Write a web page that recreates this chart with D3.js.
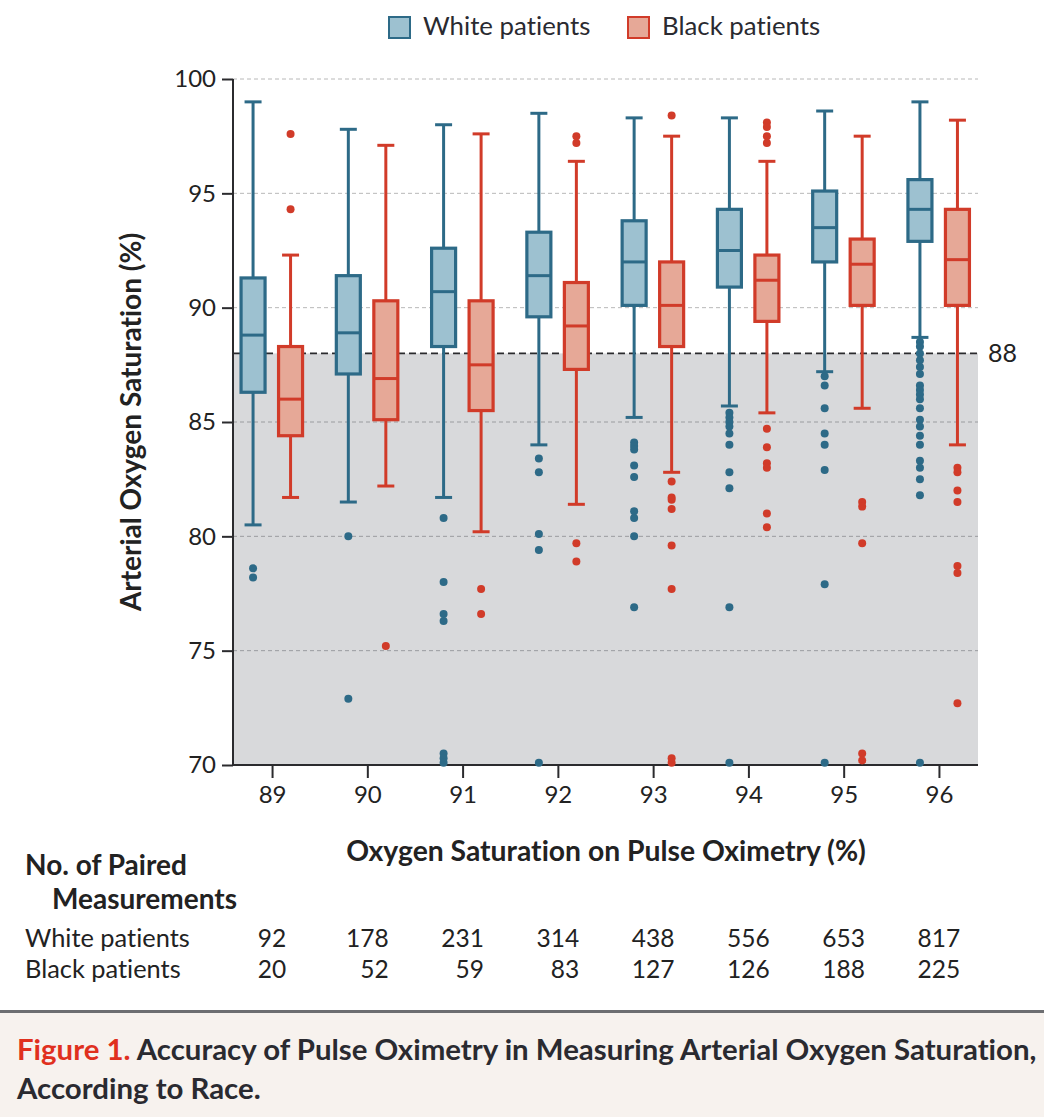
<!DOCTYPE html>
<html>
<head>
<meta charset="utf-8">
<script src="https://cdn.jsdelivr.net/npm/d3@7"></script>
<style>
  body { margin: 0; background: #fff; }
  svg { display: block; font-family: Lato, "Open Sans", sans-serif; }
  svg text { font-variant-ligatures: none; font-feature-settings: "liga" 0, "dlig" 0; }
</style>
</head>
<body>
<svg id="chart" width="1044" height="1117"></svg>
<script>
// pulse oximetry categories (x axis)
const categories = [89, 90, 91, 92, 93, 94, 95, 96];

// [lower whisker, q1, median, q3, upper whisker]
const whiteStats = [
  [80.5, 86.3, 88.8, 91.3, 99.0],
  [81.5, 87.1, 88.9, 91.4, 97.8],
  [81.7, 88.3, 90.7, 92.6, 98.0],
  [84.0, 89.6, 91.4, 93.3, 98.5],
  [85.2, 90.1, 92.0, 93.8, 98.3],
  [85.7, 90.9, 92.5, 94.3, 98.3],
  [87.2, 92.0, 93.5, 95.1, 98.6],
  [88.7, 92.9, 94.3, 95.6, 99.0]
];
const blackStats = [
  [81.7, 84.4, 86.0, 88.3, 92.3],
  [82.2, 85.1, 86.9, 90.3, 97.1],
  [80.2, 85.5, 87.5, 90.3, 97.6],
  [81.4, 87.3, 89.2, 91.1, 96.4],
  [82.8, 88.3, 90.1, 92.0, 97.5],
  [85.4, 89.4, 91.2, 92.3, 96.4],
  [85.6, 90.1, 91.9, 93.0, 97.5],
  [84.0, 90.1, 92.1, 94.3, 98.2]
];

const whiteOutliers = [
  [78.6, 78.2],
  [80.0, 72.9],
  [80.8, 78.0, 76.6, 76.3, 70.5, 70.3, 70.1],
  [83.4, 82.8, 80.1, 79.4, 70.1],
  [84.1, 83.95, 83.8, 83.1, 82.6, 81.1, 80.8, 80.0, 76.9],
  [85.4, 85.2, 85.0, 84.8, 84.5, 84.0, 82.8, 82.1, 76.9, 70.1],
  [87.0, 86.6, 85.6, 84.5, 84.0, 82.9, 77.9, 70.1],
  [88.5, 88.3, 88.0, 87.7, 87.4, 87.1, 86.6, 86.4, 86.2, 86.0, 85.6, 85.1,
   84.8, 84.4, 84.0, 83.3, 83.0, 82.5, 81.8, 70.1]
];
const blackOutliers = [
  [97.6, 94.3],
  [75.2],
  [77.7, 76.6],
  [97.5, 97.2, 79.7, 78.9],
  [98.4, 82.4, 81.7, 81.6, 81.2, 79.6, 77.7, 70.3, 70.1],
  [98.1, 97.9, 97.5, 97.2, 84.7, 83.9, 83.2, 83.0, 81.0, 80.4],
  [81.5, 81.3, 79.7, 70.5, 70.2],
  [83.0, 82.8, 82.0, 81.5, 78.7, 78.4, 72.7]
];

const whiteCounts = [92, 178, 231, 314, 438, 556, 653, 817];
const blackCounts = [20, 52, 59, 83, 127, 126, 188, 225];

const yTicks = [70, 75, 80, 85, 90, 95, 100];
const threshold = 88;

const groups = [
  { name: 'White patients', stats: whiteStats, outliers: whiteOutliers, counts: whiteCounts,
    stroke: '#2d6a87', fill: '#9dc1d0', offset: -19 },
  { name: 'Black patients', stats: blackStats, outliers: blackOutliers, counts: blackCounts,
    stroke: '#d13b29', fill: '#e6a897', offset: 18.5 }
];

const svg = d3.select('#chart');

const plotLeft = 233, plotRight = 978, plotTop = 79, plotBottom = 765;

const x = d3.scalePoint()
  .domain(categories)
  .range([plotLeft, plotRight])
  .padding(0.41);

const y = d3.scaleLinear()
  .domain([70, 100])
  .range([plotBottom, plotTop]);

// shaded area below the 88 threshold
svg.append('rect')
  .attr('x', plotLeft)
  .attr('y', y(threshold))
  .attr('width', plotRight - plotLeft)
  .attr('height', y(70) - y(threshold))
  .attr('fill', '#d8d9db');

// gridlines
svg.append('g')
  .selectAll('line')
  .data(yTicks.filter(d => d > 70))
  .join('line')
  .attr('x1', plotLeft)
  .attr('x2', plotRight)
  .attr('y1', d => y(d))
  .attr('y2', d => y(d))
  .attr('stroke', d => d < threshold ? '#9a9c9f' : '#b8b8b8')
  .attr('stroke-width', 1)
  .attr('stroke-dasharray', '4,3');

// threshold line
svg.append('line')
  .attr('x1', plotLeft)
  .attr('x2', plotRight)
  .attr('y1', y(threshold))
  .attr('y2', y(threshold))
  .attr('stroke', '#2b2b2e')
  .attr('stroke-width', 1.6)
  .attr('stroke-dasharray', '7,4');

svg.append('text')
  .attr('x', 988)
  .attr('y', y(threshold) + 9)
  .attr('font-size', 25)
  .attr('fill', '#222')
  .text(threshold);

// axes
const yAxis = svg.append('g')
  .attr('transform', `translate(${plotLeft},0)`)
  .call(d3.axisLeft(y).tickValues(yTicks).tickSize(11).tickPadding(6));
const xAxis = svg.append('g')
  .attr('transform', `translate(0,${plotBottom})`)
  .call(d3.axisBottom(x).tickSize(13).tickPadding(8));

[yAxis, xAxis].forEach(ax => {
  ax.select('.domain').attr('stroke', '#2b2b2e').attr('stroke-width', 2);
  ax.selectAll('.tick line').attr('stroke', '#2b2b2e').attr('stroke-width', 2);
  ax.selectAll('.tick text')
    .attr('font-size', 24)
    .attr('fill', '#222')
    .attr('font-family', 'Lato, sans-serif');
});
yAxis.select('.domain').attr('d', `M0,${plotBottom}V${plotTop}`);
xAxis.select('.domain').attr('d', `M${plotLeft},0H${plotRight}`);

// boxes
const boxW = 24, capW = 17;
groups.forEach(g => {
  const layer = svg.append('g');
  categories.forEach((c, i) => {
    const [lo, q1, med, q3, hi] = g.stats[i];
    const cx = x(c) + g.offset;

    // whiskers
    layer.append('line')
      .attr('x1', cx).attr('x2', cx)
      .attr('y1', y(hi)).attr('y2', y(q3))
      .attr('stroke', g.stroke).attr('stroke-width', 3);
    layer.append('line')
      .attr('x1', cx).attr('x2', cx)
      .attr('y1', y(q1)).attr('y2', y(lo))
      .attr('stroke', g.stroke).attr('stroke-width', 3);
    [lo, hi].forEach(v => {
      layer.append('line')
        .attr('x1', cx - capW / 2).attr('x2', cx + capW / 2)
        .attr('y1', y(v)).attr('y2', y(v))
        .attr('stroke', g.stroke).attr('stroke-width', 3);
    });

    layer.append('rect')
      .attr('x', cx - boxW / 2)
      .attr('y', y(q3))
      .attr('width', boxW)
      .attr('height', y(q1) - y(q3))
      .attr('fill', g.fill)
      .attr('stroke', g.stroke)
      .attr('stroke-width', 3.2);
    layer.append('line')
      .attr('x1', cx - boxW / 2).attr('x2', cx + boxW / 2)
      .attr('y1', y(med)).attr('y2', y(med))
      .attr('stroke', g.stroke).attr('stroke-width', 3);

    layer.selectAll(null)
      .data(g.outliers[i])
      .join('circle')
      .attr('cx', cx)
      .attr('cy', d => y(d))
      .attr('r', 4)
      .attr('fill', g.stroke);
  });
});

// legend
const legendX = [388, 627];
groups.forEach((g, i) => {
  svg.append('rect')
    .attr('x', legendX[i] + 1)
    .attr('y', 17)
    .attr('width', 21)
    .attr('height', 21)
    .attr('fill', g.fill)
    .attr('stroke', g.stroke)
    .attr('stroke-width', 2);
  svg.append('text')
    .attr('x', legendX[i] + 35)
    .attr('y', 35)
    .attr('font-size', 25.8)
    .attr('fill', '#2a2a30')
    .text(g.name);
});

// axis titles
svg.append('text')
  .attr('transform', `translate(141,${(plotTop + plotBottom) / 2}) rotate(-90)`)
  .attr('text-anchor', 'middle')
  .attr('font-size', 28)
  .attr('font-weight', 'bold')
  .attr('fill', '#222')
  .text('Arterial Oxygen Saturation (%)');

svg.append('text')
  .attr('x', 606)
  .attr('y', 861)
  .attr('text-anchor', 'middle')
  .attr('font-size', 28.3)
  .attr('font-weight', 'bold')
  .attr('fill', '#222')
  .text('Oxygen Saturation on Pulse Oximetry (%)');

// counts table
svg.append('text')
  .attr('x', 25).attr('y', 875)
  .attr('font-size', 28).attr('font-weight', 'bold').attr('fill', '#222')
  .text('No. of Paired');
svg.append('text')
  .attr('x', 52).attr('y', 909)
  .attr('font-size', 28).attr('font-weight', 'bold').attr('fill', '#222')
  .text('Measurements');

const rowY = [947, 978];
groups.forEach((g, r) => {
  svg.append('text')
    .attr('x', 25).attr('y', rowY[r])
    .attr('font-size', 25.4).attr('fill', '#222')
    .text(g.name);
});

categories.forEach((c, i) => {
  // white number centred on the tick, black number right-aligned under it
  const wt = svg.append('text')
    .attr('x', x(c)).attr('y', rowY[0])
    .attr('text-anchor', 'middle')
    .attr('font-size', 24.5).attr('fill', '#222')
    .text(whiteCounts[i]);
  const half = wt.node().getComputedTextLength() / 2;
  svg.append('text')
    .attr('x', x(c) + half).attr('y', rowY[1])
    .attr('text-anchor', 'end')
    .attr('font-size', 24.5).attr('fill', '#222')
    .text(blackCounts[i]);
});

// caption box
svg.append('rect')
  .attr('x', 0).attr('y', 1012)
  .attr('width', 1044).attr('height', 105)
  .attr('fill', '#f7f2ee');
svg.append('line')
  .attr('x1', 0).attr('x2', 1044)
  .attr('y1', 1011.5).attr('y2', 1011.5)
  .attr('stroke', '#6d6e71').attr('stroke-width', 3);

const cap1 = svg.append('text')
  .attr('x', 17).attr('y', 1060)
  .attr('font-size', 29.4).attr('font-weight', 'bold').attr('fill', '#2a2a30');
cap1.append('tspan').attr('fill', '#e0301e').text('Figure 1. ');
cap1.append('tspan').text('Accuracy of Pulse Oximetry in Measuring Arterial Oxygen Saturation,');
svg.append('text')
  .attr('x', 17).attr('y', 1099)
  .attr('font-size', 29.4).attr('font-weight', 'bold').attr('fill', '#2a2a30')
  .text('According to Race.');
</script>
</body>
</html>
